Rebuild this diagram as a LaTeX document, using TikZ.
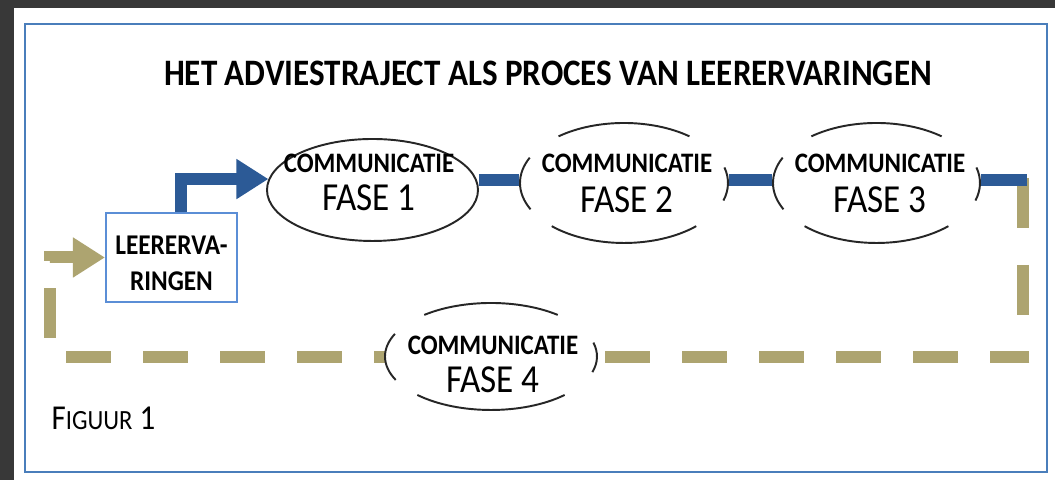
\documentclass[tikz,border=0pt]{standalone}
\usepackage{fontspec}
\setmainfont{Carlito}
\usetikzlibrary{shapes.geometric, arrows.meta}
\definecolor{panelbg}{HTML}{383838}
\definecolor{framebl}{HTML}{4A7EBB}
\definecolor{boxbl}{HTML}{5B8ED6}
\definecolor{flowbl}{HTML}{2C5A96}
\definecolor{khaki}{HTML}{ADA470}
\newcommand{\tall}[1]{\scalebox{1}[1.13]{#1}}

\begin{document}
\begin{tikzpicture}[
    phase/.style={ellipse, fill=white, inner sep=0pt},
    rim/.style={draw=black!85, line width=0.55pt},
    commlabel/.style={font=\fontsize{7.1}{8.5}\selectfont\bfseries, inner sep=0pt},
    faselabel/.style={font=\fontsize{10}{12}\selectfont, inner sep=0pt},
    mainflow/.style={flowbl, line width=0.12cm},
    backflow/.style={khaki, line width=0.12cm},
    fat/.style={-{Triangle[length=0.32cm, width=0.38cm]}}]

    % ---------------- page and frame ----------------
    \useasboundingbox (0,0) rectangle (10.55,4.80);
    \fill[panelbg] (0,0) rectangle (10.55,4.80);
    \fill[white] (0.14,0) rectangle (10.55,4.72);
    \draw[framebl, line width=0.8pt] (0.25,0.08) rectangle (10.47,4.56);

    \node[font=\fontsize{9.4}{11}\selectfont\bfseries] (title) at (5.48,4.07)
      {\tall{HET ADVIESTRAJECT ALS PROCES VAN LEERERVARINGEN}};

    % ---------------- learning experiences ----------------
    \node[draw=boxbl, line width=0.6pt, minimum width=1.31cm, minimum height=0.89cm] (lr) at (1.715,2.225) {};
    \node[align=center, inner sep=0pt, font=\fontsize{7.2}{9}\selectfont\bfseries] (lrtext)
      at ([yshift=-0.075cm]lr.center) {\tall{\begin{tabular}{@{}c@{}}LEERERVA-\\RINGEN\end{tabular}}};

    % feedback loop back to the box (under the phases), one leg at a time
    \coordinate (ne) at (10.235,3.02);
    \coordinate (se) at (10.235,1.23);
    \coordinate (sw) at (0.50,1.23);
    \draw[backflow, dash pattern=on 0.50cm off 0.37cm] (ne) -- (se);
    \draw[backflow, dash pattern=on 0.45cm off 0.32cm, dash phase=0.055cm] ([xshift=0.06cm]se) -- (sw);
    \draw[backflow, fat, dash pattern=on 0.50cm off 0.27cm, dash phase=0.58cm] (sw) |- (lr.west);

    % ---------------- the four phases ----------------
    \node[phase, rim, minimum width=2.11cm, minimum height=1.02cm] (e1) at (3.725,2.90) {};
    \foreach \n/\x/\y/\w/\h in {e2/6.24/2.97/2.08/1.20, e3/8.765/2.97/2.07/1.20, e4/4.91/1.235/2.12/1.07}
      \node[phase, minimum width=\w cm, minimum height=\h cm] (\n) at (\x,\y) {};

    % broken outlines
    \foreach \n/\rx/\ry in {e2/1.04/0.60, e3/1.035/0.60, e4/1.06/0.535}
      \foreach \a/\b in {-17/15, 51/129, 155/206, 226/314}
        \draw[rim] ([shift={(\a:\rx cm and \ry cm)}]\n.center) arc[start angle=\a, end angle=\b, x radius=\rx cm, y radius=\ry cm];

    \foreach \i/\x/\ya/\yb in {1/3.69/3.17/2.82, 2/6.27/3.17/2.80, 3/8.80/3.17/2.80, 4/4.93/1.35/1.00} {
      \node[commlabel] (c\i) at (\x,\ya) {\tall{COMMUNICATIE}};
      \node[faselabel] (f\i) at (\x,\yb) {\tall{FASE \i}};
    }

    % ---------------- main flow ----------------
    \coordinate (lane) at (0,3.00);
    \draw[mainflow, fat] ([xshift=0.095cm]lr.north) |- (e1.174);
    \draw[mainflow] (e1.east |- lane) -- (e2.west |- lane);
    \draw[mainflow] (e2.east |- lane) -- (e3.west |- lane);
    \draw[mainflow] (e3.east |- lane) -- ([xshift=0.04cm]ne |- lane);

    \node[anchor=west, inner sep=0pt, font=\fontsize{8.8}{10}\selectfont] (fig) at (0.51,0.62)
      {\tall{F{\fontsize{7}{8}\selectfont IGUUR} 1}};
  \end{tikzpicture}
\end{document}
